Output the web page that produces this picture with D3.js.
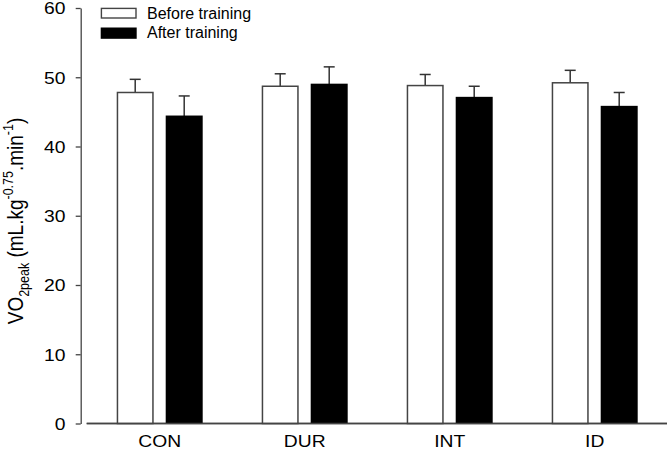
<!DOCTYPE html>
<html><head><meta charset="utf-8">
<script src="https://cdn.jsdelivr.net/npm/d3@7"></script>
<style>
body{margin:0;background:#fff;}
text{font-family:"Liberation Sans",Arial,sans-serif;fill:#000;}
</style></head>
<body><svg id="c" width="667" height="450"></svg>
<script>
const categories = ["CON","DUR","INT","ID"];
const seriesNames = ["Before training","After training"];
const beforeVals = [47.8, 48.7, 48.8, 49.2];
const beforeErr  = [1.9, 1.8, 1.6, 1.8];
const afterVals  = [44.4, 49.0, 47.1, 45.8];
const afterErr   = [2.9, 2.5, 1.6, 2.0];
const yTicks = [0,10,20,30,40,50,60];

const svg = d3.select("#c");
const x = d3.scaleBand().domain(categories).range([87.2, 667.2]);
const y = d3.scaleLinear().domain([0,60]).range([423.5, 8]);
const barW = 37, gap = 12, SX = 1.17;

// Y axis
const yAxis = svg.append("g").attr("transform","translate(80.7,0)")
  .call(d3.axisLeft(y).tickValues(yTicks).tickSize(5).tickSizeOuter(0));
yAxis.select(".domain").attr("stroke","#444").attr("stroke-width",1.3);
yAxis.selectAll(".tick line").attr("stroke","#444").attr("stroke-width",1.3);
yAxis.selectAll(".tick text").attr("font-size",16.5).attr("font-family","Liberation Sans, Arial, sans-serif")
  .attr("x",-15.3/SX).attr("dy","0.36em").attr("transform",`scale(${SX},1)`).attr("fill","#000");

// X axis
const xAxis = svg.append("g").attr("transform","translate(0,423.5)")
  .call(d3.axisBottom(x).tickSize(0).tickSizeOuter(0));
xAxis.select(".domain").attr("stroke","#444").attr("stroke-width",1.3)
  .attr("d","M86.7,0H667");
xAxis.selectAll(".tick text").attr("font-size",16.5).attr("font-family","Liberation Sans, Arial, sans-serif")
  .attr("y",23.8).attr("dy",0).attr("fill","#000")
  .each(function(d){
    const cx = x(d)+x.bandwidth()/2;
    d3.select(this).attr("x",0);
    d3.select(this.parentNode).attr("transform",`translate(${cx},0) scale(${SX},1)`);
  });

// Bars
const data = categories.map((c,i)=>({c, b:beforeVals[i], be:beforeErr[i], a:afterVals[i], ae:afterErr[i]}));
const g = svg.append("g");
data.forEach(d=>{
  const cx = x(d.c)+x.bandwidth()/2;
  const xb = cx - gap/2 - barW, xa = cx + gap/2;
  [[xb,d.b,d.be],[xa,d.a,d.ae]].forEach(([bx,v,e])=>{
    const mx = bx + barW/2;
    g.append("line").attr("x1",mx).attr("x2",mx).attr("y1",y(v)).attr("y2",y(v+e))
      .attr("stroke","#333").attr("stroke-width",1.5);
    g.append("line").attr("x1",mx-5.5).attr("x2",mx+5.5).attr("y1",y(v+e)).attr("y2",y(v+e))
      .attr("stroke","#333").attr("stroke-width",1.5);
  });
  g.append("rect").attr("x",xb+0.75).attr("y",y(d.b)).attr("width",barW-1.5).attr("height",y(0)-y(d.b))
    .attr("fill","#fff").attr("stroke","#444").attr("stroke-width",1.5);
  g.append("rect").attr("x",xa).attr("y",y(d.a)-0.5).attr("width",barW).attr("height",y(0)-y(d.a)+0.5)
    .attr("fill","#000");
});
svg.append("line").attr("x1",86.7).attr("x2",667).attr("y1",423.5).attr("y2",423.5)
  .attr("stroke","#444").attr("stroke-width",1.3);

// Legend
const leg = svg.append("g");
leg.append("rect").attr("x",101.4).attr("y",8.4).attr("width",34.6).attr("height",9.6)
  .attr("fill","#fff").attr("stroke","#444").attr("stroke-width",1.4);
leg.append("rect").attr("x",100.7).attr("y",27.5).attr("width",36).attr("height",11.3).attr("fill","#000");
leg.append("text").attr("x",147).attr("y",18.5).attr("font-size",16).text(seriesNames[0]);
leg.append("text").attr("x",147).attr("y",38.3).attr("font-size",16).text(seriesNames[1]);

// Y label
const yl = svg.append("text").attr("transform",`translate(23.3,221) scale(${SX},1) rotate(-90)`)
  .attr("text-anchor","middle").attr("font-size",19);
yl.append("tspan").text("VO");
yl.append("tspan").attr("font-size",12.5).attr("dy",5).text("2peak");
yl.append("tspan").attr("dy",-5).text(" (mL.kg");
yl.append("tspan").attr("font-size",12.5).attr("dy",-8.5).text("-0.75");
yl.append("tspan").attr("dy",8.5).text(".min");
yl.append("tspan").attr("font-size",12.5).attr("dy",-8.5).text("-1");
yl.append("tspan").attr("dy",8.5).text(")");
</script></body></html>
